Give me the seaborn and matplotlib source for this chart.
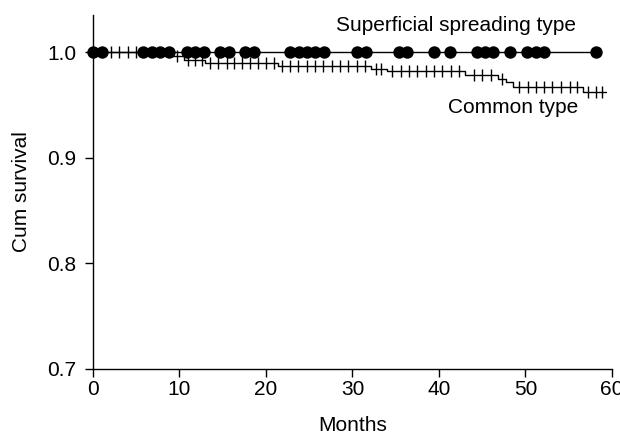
import numpy as np
import pandas as pd
import matplotlib
matplotlib.use("Agg")
import matplotlib.pyplot as plt
import seaborn as sns

# ---- data ----
common_event_times = [8.7, 10.5, 13.0, 21.4, 32.1, 34.0, 43.0, 46.8, 47.8, 48.6, 56.6]
common_event_surv = [0.996, 0.993, 0.990, 0.987, 0.984, 0.982, 0.978, 0.975, 0.972, 0.967, 0.962]
common_end = 59.3
common_censored = [2.1, 3.0, 4.0, 5.0, 9.7, 11.0, 11.8, 12.6, 13.5, 14.5, 15.5, 16.3, 17.2,
                   18.2, 19.1, 20.0, 20.9, 21.9, 22.8, 23.7, 24.7, 25.7, 26.6, 27.6, 28.6,
                   29.5, 30.5, 31.5, 32.7, 33.3, 34.6, 35.6, 36.5, 37.5, 38.5, 39.4, 40.4,
                   41.4, 42.3, 44.1, 45.0, 46.0, 47.3, 49.3, 50.3, 51.2, 52.2, 53.1, 54.1,
                   55.1, 56.0, 57.2, 58.2, 58.9]

superficial_censored = [0.0, 1.0, 5.8, 6.8, 7.8, 8.8, 10.9, 11.8, 12.8, 14.7, 15.7, 17.6,
                        18.6, 22.8, 23.8, 24.8, 25.7, 26.7, 30.5, 31.6, 35.4, 36.3, 39.4,
                        41.3, 44.4, 45.3, 46.2, 48.2, 50.2, 51.2, 52.2, 58.1]
superficial_surv = 1.0

x_ticks = [0, 10, 20, 30, 40, 50, 60]
y_ticks = [0.7, 0.8, 0.9, 1.0]
y_tick_labels = ["0.7", "0.8", "0.9", "1.0"]

# ---- build frames ----
step_t = [0.0] + common_event_times + [common_end]
step_s = [1.0] + common_event_surv + [common_event_surv[-1]]
common_df = pd.DataFrame({"t": step_t, "s": step_s})

def surv_at(t):
    idx = np.searchsorted(common_event_times, t, side="right")
    return 1.0 if idx == 0 else common_event_surv[idx - 1]

cens_df = pd.DataFrame({"t": common_censored, "s": [surv_at(t) for t in common_censored]})
sup_line = pd.DataFrame({"t": [0.0, max(superficial_censored)], "s": [superficial_surv] * 2})
sup_pts = pd.DataFrame({"t": superficial_censored, "s": [superficial_surv] * len(superficial_censored)})

sns.set_style("ticks")
plt.rcParams["font.family"] = ["Liberation Sans", "DejaVu Sans"]
plt.rcParams["font.size"] = 15
plt.rcParams["text.color"] = "black"
plt.rcParams["axes.labelcolor"] = "black"

fig = plt.figure(figsize=(6.2, 4.34), dpi=100)
ax = fig.add_axes([0.15, 0.150, 0.837, 0.815])

sns.lineplot(data=common_df, x="t", y="s", ax=ax, color="black", linewidth=1.0,
             drawstyle="steps-post", estimator=None, sort=False)
ax.plot(cens_df["t"], cens_df["s"], linestyle="none", marker="|", color="black",
        markersize=8, markeredgewidth=1.0)
sns.lineplot(data=sup_line, x="t", y="s", ax=ax, color="black", linewidth=1.0,
             estimator=None, sort=False)
sns.scatterplot(data=sup_pts, x="t", y="s", ax=ax, color="black", s=80,
                edgecolor="black", linewidth=0, clip_on=False, zorder=5)

ax.set_xlim(0, 60)
ax.set_ylim(0.7, 1.035)
ax.set_xticks(x_ticks)
ax.set_yticks(y_ticks)
ax.set_yticklabels(y_tick_labels)
ax.tick_params(axis="both", direction="out", length=6, width=1.0, labelsize=15,
               color="black", labelcolor="black")
ax.tick_params(axis="x", pad=2)
ax.tick_params(axis="y", pad=6)
for side in ["top", "right"]:
    ax.spines[side].set_visible(False)
for side in ["left", "bottom"]:
    ax.spines[side].set_linewidth(1.0)
    ax.spines[side].set_color("black")

ax.set_xlabel("Months", fontsize=15, labelpad=12, color="black")
ax.set_ylabel("Cum survival", fontsize=15, labelpad=12, color="black")

ax.text(42.0, 1.0255, "Superficial spreading type", ha="center", va="center",
        fontsize=15, color="black")
ax.text(48.6, 0.948, "Common type", ha="center", va="center", fontsize=15, color="black")

fig.savefig("out.png", dpi=100)
